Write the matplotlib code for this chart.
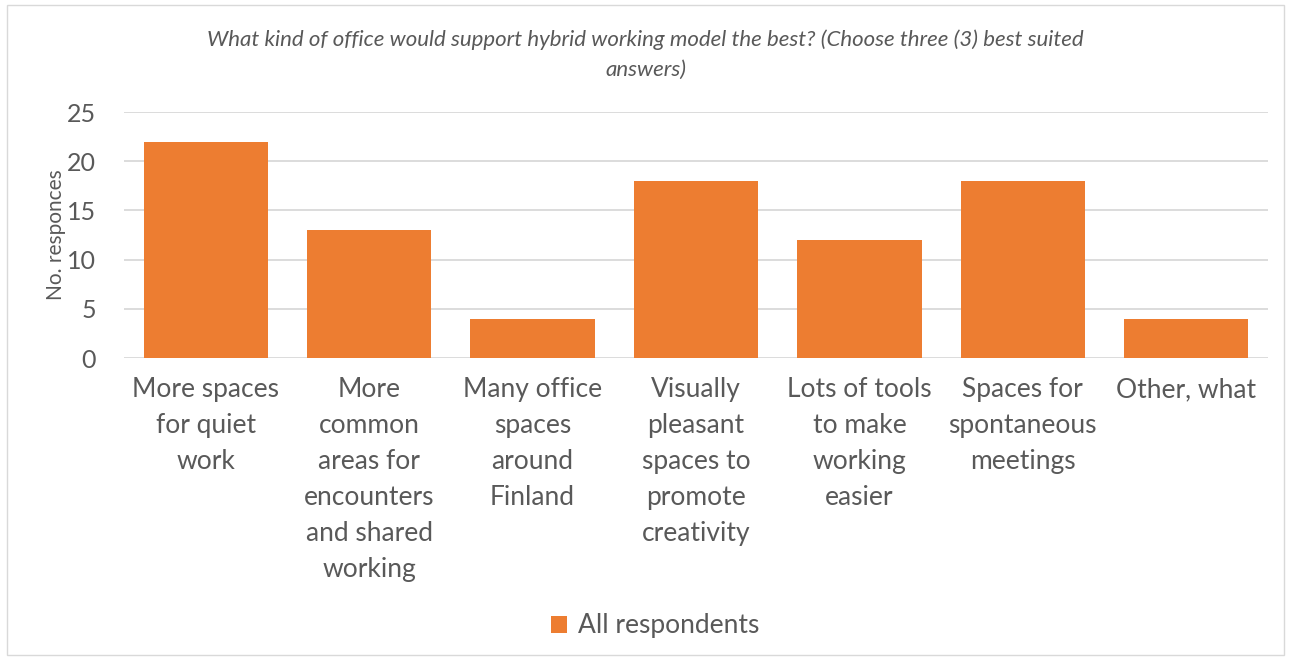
import matplotlib.pyplot as plt
from matplotlib.patches import Rectangle

categories = [
    "More spaces\nfor quiet\nwork",
    "More\ncommon\nareas for\nencounters\nand shared\nworking",
    "Many office\nspaces\naround\nFinland",
    "Visually\npleasant\nspaces to\npromote\ncreativity",
    "Lots of tools\nto make\nworking\neasier",
    "Spaces for\nspontaneous\nmeetings",
    "Other, what",
]
responses = [22, 13, 4, 18, 12, 18, 4]
yticks = [0, 5, 10, 15, 20, 25]

plt.rcParams['font.family'] = ['Lato', 'DejaVu Sans']
text_col = "#595959"
bar_col = "#ED7D31"

fig = plt.figure(figsize=(12.91, 6.62), dpi=100)
fig.patches.append(Rectangle((7 / 1291, 7 / 662), 1277 / 1291, 650 / 662,
                             transform=fig.transFigure, fill=False,
                             edgecolor="#D9D9D9", linewidth=1))

ax = fig.add_axes([124 / 1291, 1 - 358 / 662, 1144 / 1291, 246 / 662])
x = range(len(categories))
ax.bar(x, responses, width=0.76, color=bar_col, label="All respondents", zorder=3)

ax.set_xlim(-0.5, len(categories) - 0.5)
ax.set_ylim(0, 25)
ax.set_yticks(yticks)
ax.set_xticks(list(x))
ax.set_xticklabels(categories, fontsize=19, color=text_col, linespacing=1.55, va="top")
ax.tick_params(axis="x", length=0, pad=14)
ax.tick_params(axis="y", length=0, labelsize=18, labelcolor=text_col, pad=20)
ax.grid(axis="y", color="#D9D9D9", linewidth=1.3, zorder=0)
for s in ax.spines.values():
    s.set_visible(False)

ax.set_ylabel("No. responces", fontsize=15, color=text_col, labelpad=1)

fig.text(0.5, 1 - 40 / 662,
         "What kind of office would support hybrid working model the best? (Choose three (3) best suited",
         ha="center", va="center", fontsize=16, style="italic", color=text_col)
fig.text(0.5, 1 - 70 / 662, "answers)",
         ha="center", va="center", fontsize=16, style="italic", color=text_col)

fig.legend(loc="center", bbox_to_anchor=(655 / 1291, 1 - 626 / 662), frameon=False,
           fontsize=19, labelcolor=text_col, handlelength=0.6, handleheight=0.6,
           handletextpad=0.4)

fig.savefig("out.png", dpi=100)
